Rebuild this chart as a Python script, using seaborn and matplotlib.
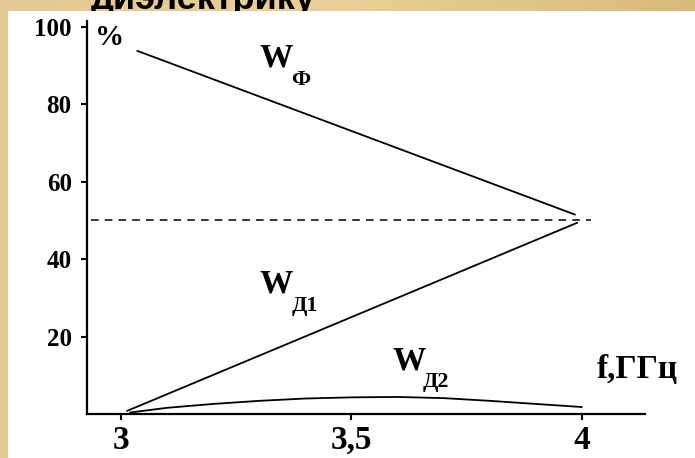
import numpy as np
import matplotlib
matplotlib.use("Agg")
import matplotlib.pyplot as plt
import matplotlib.patches as mpatches
import seaborn as sns

# Frequency (GHz) and energy share (%) of each wave component
freq_phi = [3.035, 3.985]
w_phi = [93.8, 51.5]

freq_d1 = [3.013, 3.99]
w_d1 = [0.8, 49.4]

freq_d2 = [3.02, 3.1, 3.2, 3.3, 3.4, 3.5, 3.6, 3.7, 3.8, 3.9, 4.0]
w_d2 = [0.4, 1.6, 2.6, 3.4, 4.0, 4.3, 4.4, 4.1, 3.4, 2.6, 1.8]

freq_half = [2.935, 4.02]
w_half = [50, 50]

x_ticks = [3, 3.5, 4]
x_tick_labels = ["3", "3,5", "4"]
y_ticks = [20, 40, 60, 80, 100]
y_tick_labels = ["20", "40", "60", "80", "100"]

sns.set_theme(style="white")
serif = ["Liberation Serif", "DejaVu Serif"]
plt.rcParams["font.family"] = serif

W, H = 695, 458
fig = plt.figure(figsize=(W / 100, H / 100), dpi=100)

# Tan slide background
bg = fig.add_axes([0, 0, 1, 1], zorder=-10)
grad = np.linspace(0, 1, 256)
c0 = np.array([228, 202, 146]) / 255
c1 = np.array([232, 208, 152]) / 255
c2 = np.array([218, 186, 122]) / 255
row = np.where(grad[:, None] < 0.5,
               c0 + (c1 - c0) * (grad[:, None] / 0.5),
               c1 + (c2 - c1) * ((grad[:, None] - 0.5) / 0.5))
bg.imshow(np.repeat(row[None, :, :], 4, axis=0), aspect="auto",
          extent=[0, 1, 0, 1])
bg.set_xlim(0, 1)
bg.set_ylim(0, 1)
bg.axis("off")

# Heading of the slide, mostly above the frame
bg.text(91 / W, 1 - 9 / H, "диэлектрику", fontsize=26, fontweight="bold",
        family=["Liberation Sans", "DejaVu Sans"], color="black",
        ha="left", va="baseline", zorder=1)
# White panel holding the chart
bg.add_patch(mpatches.Rectangle((8 / W, 0), 1 - 8 / W, 1 - 11 / H,
                                facecolor="white", edgecolor="none", zorder=2))

ax = fig.add_axes([87 / W, 44 / H, 558 / W, 393 / H])
ax.set_facecolor("none")

line_kw = dict(color="black", linewidth=1.3, sort=False, legend=False, ax=ax)
sns.lineplot(x=freq_phi, y=w_phi, **line_kw)
sns.lineplot(x=freq_d1, y=w_d1, **line_kw)
sns.lineplot(x=freq_d2, y=w_d2, **line_kw)
sns.lineplot(x=freq_half, y=w_half, color="black", linewidth=1.1,
             dashes=False, sort=False, legend=False, ax=ax,
             linestyle=(0, (5, 4)))

ax.set_xlim(2.926, 4.137)
ax.set_ylim(0, 101.5)

for side in ("top", "right"):
    ax.spines[side].set_visible(False)
for side in ("left", "bottom"):
    ax.spines[side].set_color("black")
    ax.spines[side].set_linewidth(1.6)

ax.set_xticks(x_ticks)
ax.set_xticklabels(x_tick_labels, fontsize=24, fontweight="bold")
ax.set_yticks(y_ticks)
ax.set_yticklabels(y_tick_labels, fontsize=18, fontweight="bold")
ax.tick_params(axis="x", direction="out", length=4, width=1.5, pad=4,
               colors="black", bottom=True)
ax.tick_params(axis="y", direction="out", length=4, width=1.5, pad=7,
               colors="black", left=True)
ax.grid(False)

txt = dict(color="black", fontweight="bold", clip_on=False)
ax.text(2.944, 95.3, "%", fontsize=21, ha="left", va="baseline", **txt)

ax.text(3.30, 89.7, "W", fontsize=24, ha="left", va="baseline", **txt)
ax.text(3.37, 85.0, "Ф", fontsize=16, ha="left", va="baseline", **txt)

ax.text(3.30, 31.3, "W", fontsize=24, ha="left", va="baseline", **txt)
ax.text(3.37, 26.5, "Д1", fontsize=16, ha="left", va="baseline", **txt)

ax.text(3.588, 11.4, "W", fontsize=24, ha="left", va="baseline", **txt)
ax.text(3.655, 7.0, "Д2", fontsize=16, ha="left", va="baseline", **txt)

ax.text(4.033, 9.3, "f,ГГц", fontsize=24, ha="left", va="baseline", **txt)

fig.savefig("out.png", dpi=100)
